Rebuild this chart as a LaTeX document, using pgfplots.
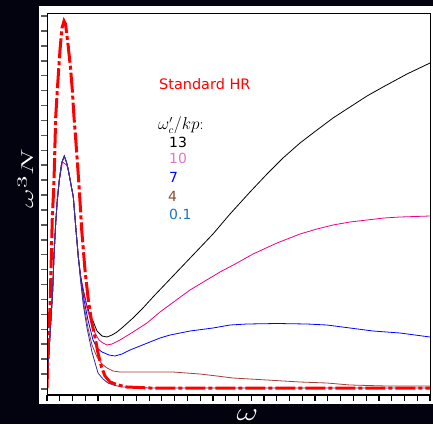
\documentclass[border=0pt]{standalone}
\usepackage{pgfplots}
\pgfplotsset{compat=1.18}
\usepackage{fontspec}
\newfontfamily\dejavu{DejaVu Sans}
\definecolor{bgdark}{RGB}{3,3,15}
\definecolor{cpink}{HTML}{E377C2}
\definecolor{cbrownlbl}{HTML}{8C4A2F}
\definecolor{cbrown}{HTML}{A0403A}
\definecolor{cnavy}{HTML}{3030A0}
\definecolor{ctblue}{HTML}{1F77B4}
\begin{document}
\begin{tikzpicture}[x=1bp,y=1bp]
\useasboundingbox (0,0) rectangle (433,424);
\fill[bgdark] (0,0) rectangle (433,424);
\fill[white] (39,20) rectangle (433,418);
\begin{axis}[
  at={(47bp,29bp)}, anchor=south west,
  scale only axis, width=383bp, height=382bp,
  xmin=0, xmax=383, ymin=-6, ymax=376,
  xtick distance=12.766, ytick distance=14.92,
  xticklabels={}, yticklabels={},
  tick align=outside, tick pos=left,
  major tick length=6bp,
  xtick style={black, line width=1.2bp},
  ytick style={black!65, line width=1.5bp},
  axis line style={black, line width=0.8bp},
  clip=true,
]
% 13
\addplot[black, line width=0.8bp] coordinates {
(0,1)(1.7,32)(3.7,66)(5.7,99)(6.9,132)(8.7,166)(10.3,189)(12.3,209)(14.7,226)(17.3,233)(19.7,226)(21.3,219)(23.7,206)(26.3,192)(29,159)(31.3,132)(33.7,112)
(36.3,99)(39.7,84)(43,74)(46,68)(50,58)(55,53)(60,52)(65,54)(70,57)(76,62)(86,71)(96,81)(106,92)(126,113)(146,134)(166,155)(183,175)(203,197)(220,215)(236,231)(253,246)(270,259)(286,271)(303,282)(320,293)(336,302)(360,315)(383,326)};
% 10
\addplot[magenta, line width=0.8bp] coordinates {
(0,1)(1.7,32)(3.7,66)(5.7,99)(6.9,132)(8.7,166)(10.3,189)(12.3,209)(15.5,227)(19.7,224)(21.3,219)(23.7,206)(26.3,192)(29,159)(31.3,132)(33.7,112)
(36.3,98)(40,81)(44,67)(48,56)(52,49)(56,46)(60,44)(65,45)(73,49)(86,57)(100,66)(113,77)(128,88)(143,99)(158,108)(173,117)(190,126)(206,135)(230,146)(253,155)(270,160)(286,164)(303,167)(320,169)(337,171)(353,172)(383,173)};
% 7
\addplot[blue, line width=0.8bp] coordinates {
(0,1)(1.7,32)(3.7,66)(5.7,99)(6.9,132)(8.7,166)(10.3,189)(12.3,209)(14.7,226)(17.3,233)(19.7,226)(21.3,219)(23.7,206)(26.3,192)(29,159)(31.3,132)(33.7,112)
(37,89)(41,69)(46,49)(50,41)(55,37)(62,34)(68,33)(75,35)(83,39)(93,43)(103,47)(113,51)(123,54)(143,58)(166,61)(183,64)(200,65)(230,65.5)(260,65)(280,64)(303,61)(326,58)(353,56)(383,52)};
% 4
\addplot[cbrown, line width=0.8bp] coordinates {
(0,1)(1.7,32)(3.7,66)(5.7,99)(6.9,132)(8.7,166)(10.3,189)(12.3,209)(14.7,226)(17.3,233)(19.7,226)(21.3,219)(23.7,206)(26.3,192)(29,159)(31.3,132)
(33.7,109)(37,84)(41,61)(45,44)(50,32)(55,25)(60,21)(66,18)(73,17)(93,17)(126,17)(153,15)(170,13)(186,11)(220,9)(253,7)(280,6)(303,4)(340,3)(383,3)};
% 0.1
\addplot[cnavy, line width=0.8bp] coordinates {
(0,1)(1.7,32)(3.7,66)(5.7,99)(6.9,132)(8.7,166)(10.3,189)(12.3,209)(14.7,226)(17.3,233)(19.7,226)(21.3,219)(23.7,206)(26.3,192)(29,159)(31.3,132)
(33.7,107)(36.3,84)(40,61)(45,37)(51,16)(56,10)(61,6)(68,3.5)(76,2)(103,1)(383,1)};
% Standard HR
\addplot[red, line width=3bp, dash pattern=on 20bp off 3bp on 4bp off 3bp] coordinates {
(0,1)(0.3,12)(1.3,49)(3,82)(4,119)(5.3,172)(6.3,192)(7.3,219)(8,246)(8.7,272)(10.3,299)(13,339)(15,361)(17,368)(18.5,365)(21.3,342)(23.7,319)(25.3,299)(27,272)(29,246)(30.7,222)(32.3,199)(34.7,159)(38,119)(41.3,89)(44.5,68)(48,52)(51,36)(54.5,22)(58,13)(63,7)(71,4)(80,2)(103,1)(383,1)};
\draw[black, line width=2bp] (rel axis cs:0,0) -- (rel axis cs:0,1);
\draw[black, line width=2bp] (rel axis cs:0,0) -- (rel axis cs:1,0);
\end{axis}
\node[rotate=90, white, font=\fontsize{19}{19}\selectfont] at (25.5,245.5) {\scalebox{1.75}[1]{$\omega^3N$}};
\node[white, font=\fontsize{23}{23}\selectfont] at (247.5,9) {\scalebox{1.35}[1]{$\omega$}};
\node[anchor=west, red, inner sep=0pt, font=\dejavu\fontsize{14.5}{15}\selectfont] at (159,340) {Standard HR};
\node[anchor=west, black, inner sep=0pt, font=\fontsize{16}{16}\selectfont] at (158,299) {$\omega_c'/kp$:};
\node[anchor=west, black, inner sep=0pt, font=\dejavu\fontsize{14}{14}\selectfont] at (169,282) {13};
\node[anchor=west, cpink, inner sep=0pt, font=\dejavu\fontsize{14}{14}\selectfont] at (169,266) {10};
\node[anchor=west, blue, inner sep=0pt, font=\dejavu\fontsize{14}{14}\selectfont] at (169,247) {7};
\node[anchor=west, cbrownlbl, inner sep=0pt, font=\dejavu\fontsize{14}{14}\selectfont] at (168,228) {4};
\node[anchor=west, ctblue, inner sep=0pt, font=\dejavu\fontsize{14}{14}\selectfont] at (169,210) {0.1};
\end{tikzpicture}
\end{document}
